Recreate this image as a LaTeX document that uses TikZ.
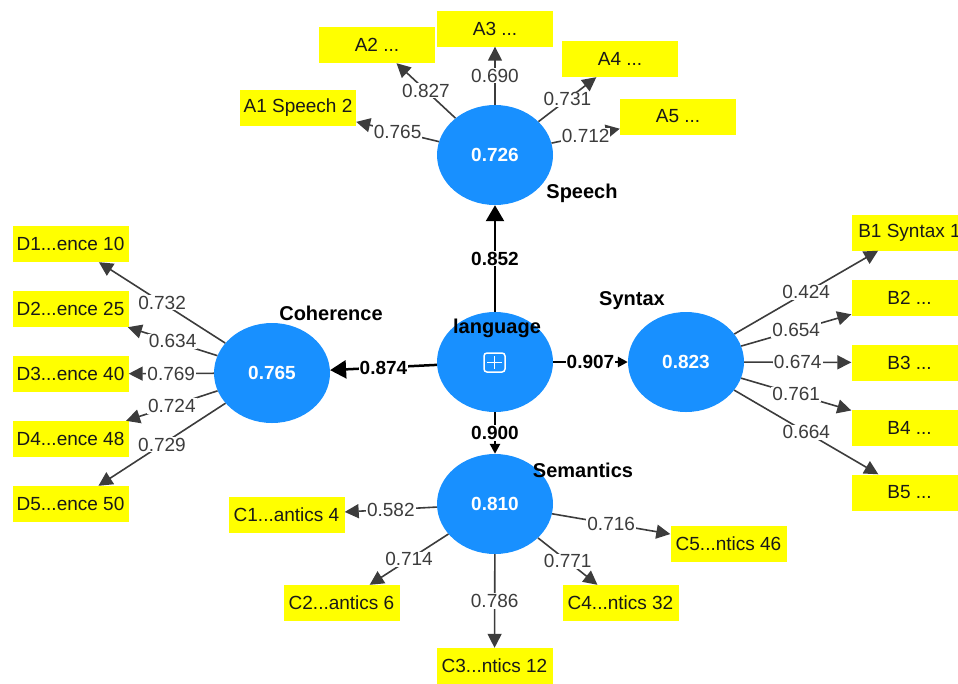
\documentclass[tikz,border=0pt]{standalone}
\usepackage{fontspec}
\setmainfont{Liberation Sans}
\usetikzlibrary{shapes.geometric,arrows.meta}
\definecolor{lvblue}{RGB}{24,144,255}
\definecolor{boxyellow}{RGB}{255,255,0}
\definecolor{edgegray}{RGB}{60,60,60}

\begin{document}
\begin{tikzpicture}[x=1pt,y=-1pt,
  lv/.style={ellipse,fill=lvblue,minimum width=116pt,minimum height=100pt,inner sep=0pt,text=white,font=\fontsize{19}{21}\selectfont\bfseries},
  ind/.style={fill=boxyellow,minimum width=116pt,minimum height=36pt,inner sep=0pt,text=black!90,font=\fontsize{19}{21}\selectfont},
  lvname/.style={font=\fontsize{20}{22}\selectfont\bfseries},
  load/.style={draw=edgegray,line width=1.6pt,-{Triangle[length=14pt,width=14pt]}},
  struct/.style={draw=black,line width=2.5pt,-{Triangle[length=16pt,width=18pt]}},
  val/.style={fill=white,inner sep=1pt,text=edgegray,font=\fontsize{19}{21}\selectfont},
  coef/.style={fill=white,inner sep=1pt,font=\fontsize{19}{21}\selectfont\bfseries}]
\useasboundingbox (0,0) rectangle (958,683);
\node[lv] (speech) at (495,155) {0.726};
\node[lv] (lang) at (495,362) {};
\node[lv] (coh) at (272,373) {0.765};
\node[lv] (syn) at (686,362) {0.823};
\node[lv] (sem) at (495,504) {0.810};
\node[lvname] at (582,193) {Speech};
\node[lvname] at (331,313) {Coherence};
\node[lvname] at (632,301) {Syntax};
\node[lvname] at (583,470) {Semantics};
\node[lvname] at (497,328) {language};
\node[draw=white,line width=1.5pt,rounded corners=3pt,minimum width=21pt,minimum height=19pt,inner sep=0pt] (plus) at (494.5,362.5) {};
\draw[white,line width=1.5pt] ([yshift=-4pt]plus.north) -- ([yshift=4pt]plus.south);
\draw[white,line width=1.5pt] ([xshift=4pt]plus.west) -- ([xshift=-4pt]plus.east);
\node[ind] (a1) at (298,108) {A1 Speech 2};
\node[ind] (a2) at (377,45) {A2 ...};
\node[ind] (a3) at (495,28.5) {A3 ...};
\node[ind] (a4) at (620,59) {A4 ...};
\node[ind] (a5) at (678,116.5) {A5 ...};
\node[ind] (d1) at (70.5,244) {D1...ence 10};
\node[ind] (d2) at (70.5,309) {D2...ence 25};
\node[ind] (d3) at (70.5,374) {D3...ence 40};
\node[ind] (d4) at (70.5,439) {D4...ence 48};
\node[ind] (d5) at (70.5,504) {D5...ence 50};
\node[ind] (b1) at (909.5,232.5) {B1 Syntax 1};
\node[ind] (b2) at (909.5,297.5) {B2 ...};
\node[ind] (b3) at (909.5,362.5) {B3 ...};
\node[ind] (b4) at (909.5,427.5) {B4 ...};
\node[ind] (b5) at (909.5,492.5) {B5 ...};
\node[ind] (c1) at (286.5,515) {C1...antics 4};
\node[ind] (c2) at (341.5,603) {C2...antics 6};
\node[ind] (c3) at (494.5,666) {C3...ntics 12};
\node[ind] (c4) at (620.5,603) {C4...ntics 32};
\node[ind] (c5) at (728.5,544) {C5...ntics 46};
\draw[struct] (lang) -- node[coef] {0.852} (speech);
\draw[struct] (lang) -- node[coef] {0.874} (coh);
\draw[struct,-{Triangle[length=10pt,width=10pt]}] (lang) -- node[coef] {0.907} (syn);
\draw[struct,-{Triangle[length=10pt,width=10pt]}] (lang) -- node[coef] {0.900} (sem);
\draw[load] (speech) -- node[val] {0.765} (a1);
\draw[load] (speech) -- node[val] {0.827} (a2);
\draw[load] (speech) -- node[val] {0.690} (a3);
\draw[load] (speech) -- node[val] {0.731} (a4);
\draw[load] (speech) -- node[val] {0.712} (a5);
\draw[load] (coh) -- node[val] {0.732} (d1);
\draw[load] (coh) -- node[val] {0.634} (d2);
\draw[load] (coh) -- node[val] {0.769} (d3);
\draw[load] (coh) -- node[val] {0.724} (d4);
\draw[load] (coh) -- node[val] {0.729} (d5);
\draw[load] (syn) -- node[val] {0.424} (b1);
\draw[load] (syn) -- node[val] {0.654} (b2);
\draw[load] (syn) -- node[val] {0.674} (b3);
\draw[load] (syn) -- node[val] {0.761} (b4);
\draw[load] (syn) -- node[val] {0.664} (b5);
\draw[load] (sem) -- node[val] {0.582} (c1);
\draw[load] (sem) -- node[val] {0.714} (c2);
\draw[load] (sem) -- node[val] {0.786} (c3);
\draw[load] (sem) -- node[val] {0.771} (c4);
\draw[load] (sem) -- node[val] {0.716} (c5);
\end{tikzpicture}
\end{document}
